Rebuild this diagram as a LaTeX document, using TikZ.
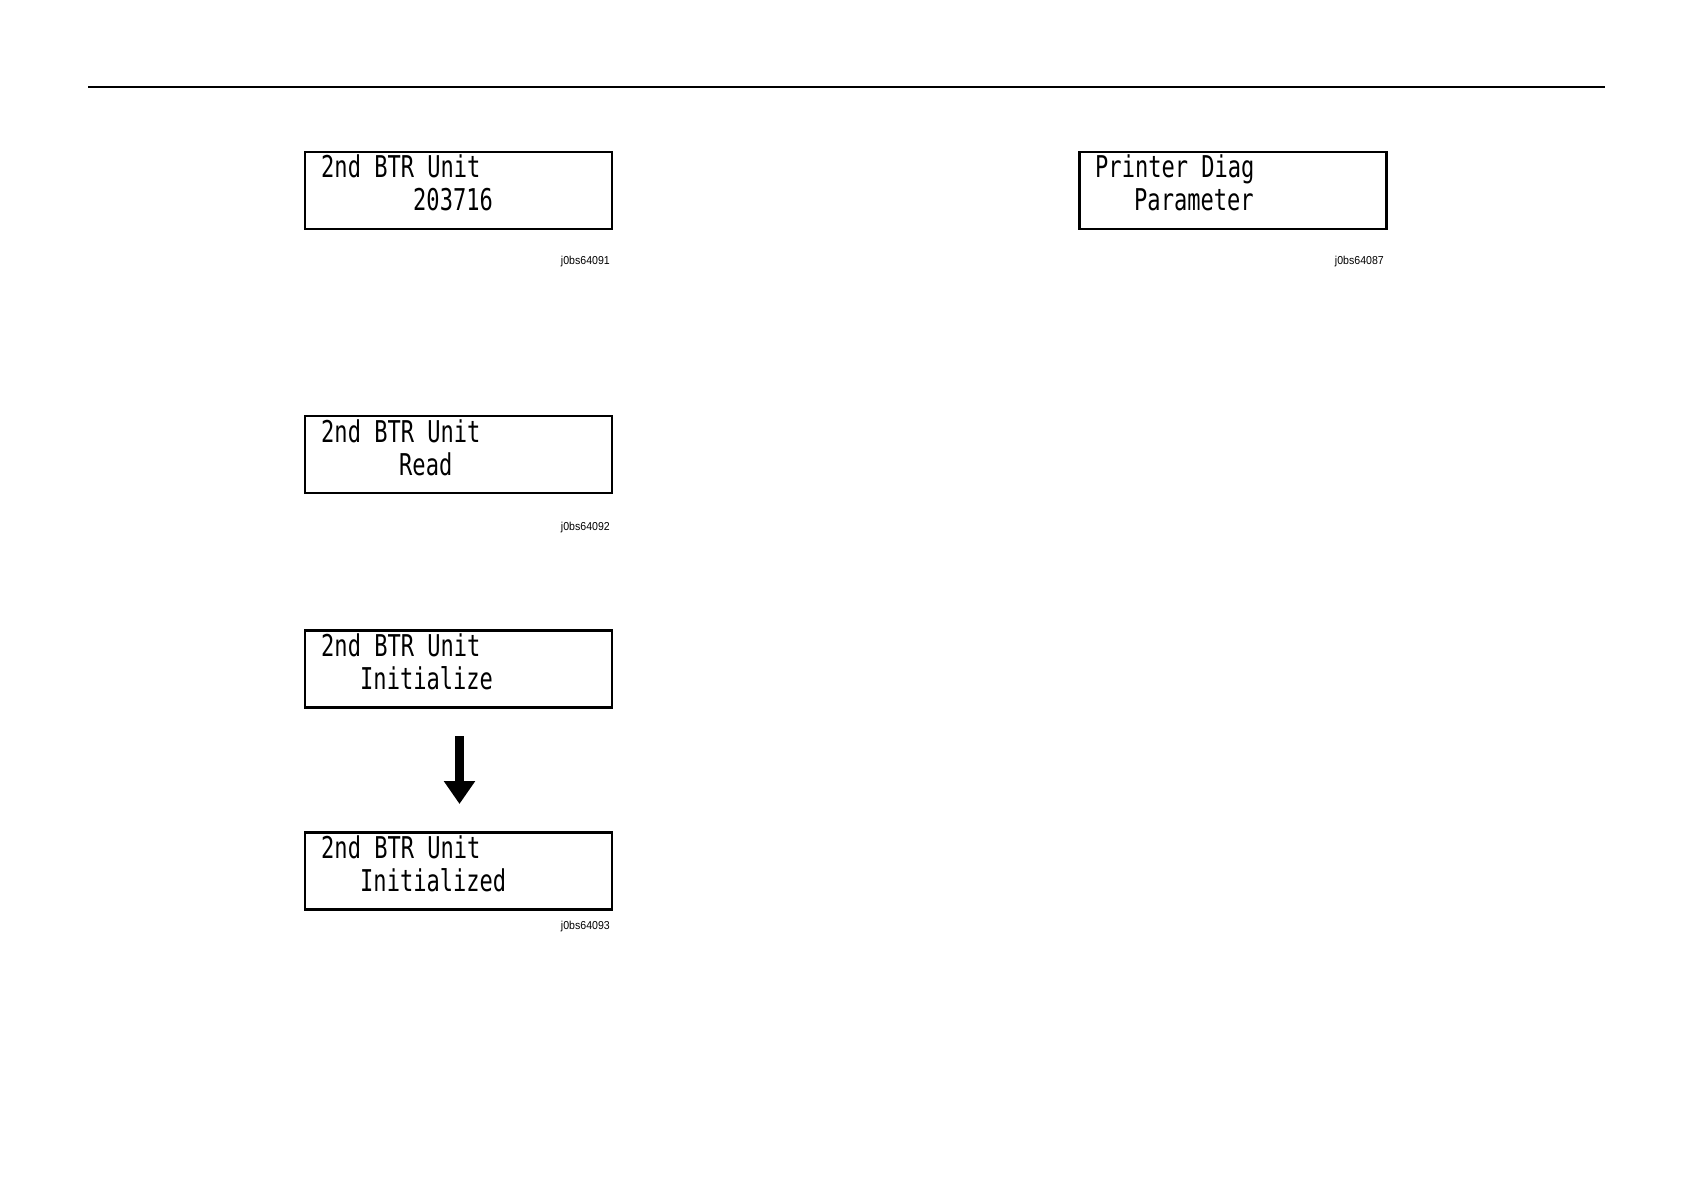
\documentclass[tikz,border=0pt]{standalone}
\usepackage{fontspec}
\usetikzlibrary{arrows.meta}
\newfontfamily\lcdfont[FakeStretch=0.735]{DejaVu Sans Mono}
\newfontfamily\tagfont[FakeStretch=0.92]{Liberation Sans}
\begin{document}
\begin{tikzpicture}[x=1pt,y=-1pt,
  lcdbox/.style={draw=black,line width=2.6pt,minimum width=307pt,minimum height=77pt,inner sep=0pt,fill=white},
  lcdtext/.style={anchor=base west,inner sep=0pt,font=\fontsize{30}{30}\lcdfont},
  tag/.style={anchor=base east,inner sep=0pt,font=\fontsize{11.5}{11.5}\tagfont},
  rule/.style={line width=1.6pt}]
\useasboundingbox (0,0) rectangle (1684,1190);
% header rule
\coordinate (r1) at (88,87);
\coordinate (r2) at (1605,87);
\draw[rule] (r1) -- (r2);
% box 1
\node[lcdbox] (b1) at (458.5,190.5) {};
\node[lcdtext] (b1l1) at (321,178) {2nd BTR Unit};
\node[lcdtext] (b1l2) at (413,211) {203716};
\node[tag] (t1) at (610,265) {j0bs64091};
% box right
\node[lcdbox] (b5) at (1233,190.5) {};
\node[lcdtext] (b5l1) at (1095,178) {Printer Diag};
\node[lcdtext] (b5l2) at (1134,211) {Parameter};
\node[tag] (t5) at (1384,265) {j0bs64087};
% box 2
\node[lcdbox] (b2) at (458.5,454.5) {};
\node[lcdtext] (b2l1) at (321,442) {2nd BTR Unit};
\node[lcdtext] (b2l2) at (399,475) {Read};
\node[tag] (t2) at (610,530) {j0bs64092};
% box 3
\node[lcdbox] (b3) at (458.5,669) {};
\node[lcdtext] (b3l1) at (321,656.5) {2nd BTR Unit};
\node[lcdtext] (b3l2) at (360,689.5) {Initialize};
% box 4
\node[lcdbox] (b4) at (458.5,871) {};
\node[lcdtext] (b4l1) at (321,858.5) {2nd BTR Unit};
\node[lcdtext] (b4l2) at (360,891.5) {Initialized};
\node[tag] (t4) at (610,929) {j0bs64093};
% arrow
\coordinate (a1) at (459.5,736);
\coordinate (a2) at (459.5,804);
\draw[line width=8.5pt,-{Triangle[width=30pt,length=23pt]}] (a1) -- (a2);
\end{tikzpicture}
\end{document}
